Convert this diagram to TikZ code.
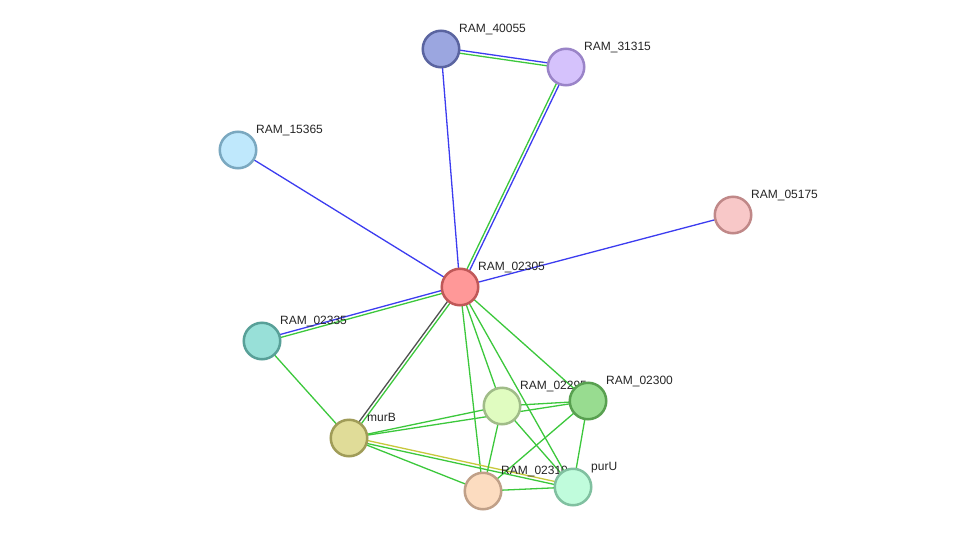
\documentclass[tikz,border=0pt]{standalone}
\usepackage{fontspec}
\setmainfont{Liberation Sans}
\usetikzlibrary{calc,backgrounds}

\definecolor{lnblue}{HTML}{3C3CF0}
\definecolor{lngreen}{HTML}{3CC83C}
\definecolor{lngrey}{HTML}{505050}
\definecolor{lnyellow}{HTML}{C8C83C}

\tikzset{
  prot/.style={circle, draw, line width=2.5pt, minimum size=36.5pt, inner sep=0pt},
  plabel/.style={anchor=base west, inner sep=0pt, text=black!85,
    font=\fontsize{12}{14}\selectfont},
  link/.style={line width=1.3pt},
}

% two parallel links between two proteins
\newcommand\duolink[4]{%
  \draw[link,#3] ($(#1.center)!1.5pt!90:(#2.center)$) -- ($(#2.center)!1.5pt!-90:(#1.center)$);
  \draw[link,#4] ($(#1.center)!1.5pt!-90:(#2.center)$) -- ($(#2.center)!1.5pt!90:(#1.center)$);}

\begin{document}
\begin{tikzpicture}[x=1pt,y=-1pt]
  \useasboundingbox (0,0) rectangle (975,536);
  % Proteins
  \node[prot, fill={rgb,255:red,155;green,166;blue,224}, draw={rgb,255:red,90;green,100;blue,160}] (n40055) at (441,49) {};
  \node[plabel] at ($(n40055)+(18,-17)$) {RAM\_40055};
  \node[prot, fill={rgb,255:red,213;green,194;blue,252}, draw={rgb,255:red,154;green,132;blue,200}] (n31315) at (566,67) {};
  \node[plabel] at ($(n31315)+(18,-17)$) {RAM\_31315};
  \node[prot, fill={rgb,255:red,191;green,232;blue,252}, draw={rgb,255:red,122;green,168;blue,192}] (n15365) at (238,150) {};
  \node[plabel] at ($(n15365)+(18,-17)$) {RAM\_15365};
  \node[prot, fill={rgb,255:red,248;green,200;blue,200}, draw={rgb,255:red,192;green,136;blue,136}] (n05175) at (733,215) {};
  \node[plabel] at ($(n05175)+(18,-17)$) {RAM\_05175};
  \node[prot, fill={rgb,255:red,255;green,152;blue,152}, draw={rgb,255:red,192;green,88;blue,88}] (n02305) at (460,287) {};
  \node[plabel] at ($(n02305)+(18,-17)$) {RAM\_02305};
  \node[prot, fill={rgb,255:red,152;green,224;blue,216}, draw={rgb,255:red,88;green,160;blue,152}] (n02335) at (262,341) {};
  \node[plabel] at ($(n02335)+(18,-17)$) {RAM\_02335};
  \node[prot, fill={rgb,255:red,224;green,220;blue,152}, draw={rgb,255:red,160;green,156;blue,88}] (nmurB) at (349,438) {};
  \node[plabel] at ($(nmurB)+(18,-17)$) {murB};
  \node[prot, fill={rgb,255:red,224;green,252;blue,192}, draw={rgb,255:red,160;green,188;blue,136}] (n02295) at (502,406) {};
  \node[plabel] at ($(n02295)+(18,-17)$) {RAM\_02295};
  \node[prot, fill={rgb,255:red,152;green,220;blue,144}, draw={rgb,255:red,88;green,160;blue,80}] (n02300) at (588,401) {};
  \node[plabel] at ($(n02300)+(18,-17)$) {RAM\_02300};
  \node[prot, fill={rgb,255:red,252;green,220;blue,192}, draw={rgb,255:red,192;green,160;blue,136}] (n02310) at (483,491) {};
  \node[plabel] at ($(n02310)+(18,-17)$) {RAM\_02310};
  \node[prot, fill={rgb,255:red,192;green,252;blue,220}, draw={rgb,255:red,128;green,192;blue,160}] (npurU) at (573,487) {};
  \node[plabel] at ($(npurU)+(18,-17)$) {purU};
  % Links
  \begin{pgfonlayer}{background}
    \fill[white] (0,0) rectangle (975,536);
    \duolink{n40055}{n31315}{lnblue}{lngreen}
    \draw[link,lnblue] (n40055.center) -- (n02305.center);
    \duolink{n31315}{n02305}{lnblue}{lngreen}
    \draw[link,lnblue] (n15365.center) -- (n02305.center);
    \draw[link,lnblue] (n05175.center) -- (n02305.center);
    \duolink{n02335}{n02305}{lnblue}{lngreen}
    \duolink{nmurB}{n02305}{lngrey}{lngreen}
    \draw[link,lngreen] (n02335.center) -- (nmurB.center);
    \draw[link,lngreen] (n02305.center) -- (n02295.center);
    \draw[link,lngreen] (n02305.center) -- (n02300.center);
    \draw[link,lngreen] (n02305.center) -- (n02310.center);
    \draw[link,lngreen] (n02305.center) -- (npurU.center);
    \draw[link,lngreen] (nmurB.center) -- (n02295.center);
    \draw[link,lngreen] (nmurB.center) -- (n02300.center);
    \draw[link,lngreen] (nmurB.center) -- (n02310.center);
    \duolink{nmurB}{npurU}{lnyellow}{lngreen}
    \draw[link,lngreen] (n02295.center) -- (n02300.center);
    \draw[link,lngreen] (n02295.center) -- (n02310.center);
    \draw[link,lngreen] (n02295.center) -- (npurU.center);
    \draw[link,lngreen] (n02300.center) -- (n02310.center);
    \draw[link,lngreen] (n02300.center) -- (npurU.center);
    \draw[link,lngreen] (n02310.center) -- (npurU.center);
  \end{pgfonlayer}
\end{tikzpicture}
\end{document}
